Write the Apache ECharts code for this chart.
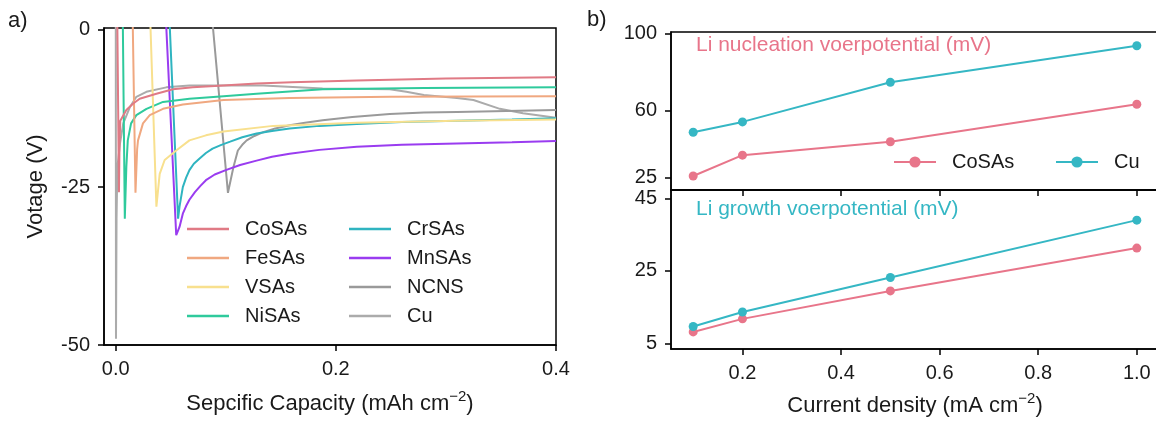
<!DOCTYPE html>
<html><head><meta charset="utf-8">
<script src="https://cdn.jsdelivr.net/npm/echarts@6/dist/echarts.min.js"></script>
<style>html,body{margin:0;padding:0;background:#fff;overflow:hidden}#c{width:1200px;height:423px}</style>
</head><body><div id="c"></div><script>
// ---------- Panel a: voltage profiles [capacity, voltage] ----------
const coSAs = [[0.0015,1],[0.0030,-25.8],[0.0035,-18],[0.0042,-14.5],[0.0097,-12.8],[0.0157,-11.8],[0.0218,-11.0],[0.037,-10.2],[0.052,-9.5],[0.07,-9.2],[0.09,-9.0],[0.128,-8.6],[0.16,-8.4],[0.219,-8.1],[0.3,-7.8],[0.4,-7.6]];
const feSAs = [[0.0155,1],[0.0180,-25.9],[0.0195,-19],[0.0203,-17.6],[0.0248,-14.9],[0.031,-13.6],[0.043,-12.6],[0.061,-11.9],[0.098,-11.2],[0.158,-10.9],[0.249,-10.7],[0.4,-10.6]];
const vSAs = [[0.0315,1],[0.0370,-28.1],[0.040,-22.9],[0.0445,-20.7],[0.055,-19.2],[0.067,-17.6],[0.082,-16.8],[0.098,-16.2],[0.143,-15.3],[0.219,-14.8],[0.31,-14.5],[0.4,-14.3]];
const niSAs = [[0.0065,1],[0.0083,-30],[0.0097,-21.8],[0.011,-17.6],[0.014,-14.9],[0.0188,-13.6],[0.028,-12.6],[0.043,-11.5],[0.067,-11.0],[0.098,-10.6],[0.128,-10.2],[0.188,-9.5],[0.28,-9.3],[0.4,-9.2]];
const crSAs = [[0.0490,1],[0.0567,-30],[0.058,-28.1],[0.061,-25],[0.064,-23.5],[0.067,-22.3],[0.071,-21.3],[0.076,-20.5],[0.082,-19.6],[0.088,-18.9],[0.096,-18.3],[0.104,-17.8],[0.115,-17.1],[0.128,-16.5],[0.142,-16.1],[0.158,-15.7],[0.185,-15.3],[0.219,-15.0],[0.26,-14.7],[0.31,-14.5],[0.36,-14.3],[0.4,-14.1]];
const mnSAs = [[0.0458,1],[0.0550,-32.6],[0.058,-31.3],[0.061,-29.2],[0.064,-28.0],[0.067,-27.0],[0.072,-25.8],[0.077,-24.8],[0.082,-23.9],[0.090,-23.0],[0.100,-22.3],[0.113,-21.5],[0.128,-20.8],[0.142,-20.2],[0.158,-19.7],[0.185,-19.1],[0.219,-18.6],[0.26,-18.3],[0.31,-18.1],[0.36,-17.9],[0.4,-17.7]];
const ncns = [[0.0880,1],[0.102,-25.9],[0.107,-21.8],[0.111,-19.2],[0.115,-18.3],[0.119,-17.6],[0.126,-16.9],[0.134,-16.3],[0.145,-15.7],[0.158,-15.2],[0.172,-14.8],[0.188,-14.4],[0.215,-13.9],[0.249,-13.4],[0.28,-13.2],[0.31,-13.1],[0.4,-12.8]];
const cuA = [[0.0001,1],[0.0003,-49],[0.0008,-30],[0.0015,-22],[0.0039,-18.1],[0.0069,-14.9],[0.0130,-12.3],[0.0188,-10.7],[0.0279,-9.9],[0.046,-9.2],[0.067,-8.9],[0.098,-8.9],[0.134,-8.9],[0.188,-9.4],[0.249,-9.5],[0.264,-9.9],[0.28,-10.4],[0.31,-10.9],[0.325,-11.2],[0.349,-12.6],[0.37,-13.3],[0.4,-14.0]];
const seriesNamesA = ['CoSAs','FeSAs','VSAs','NiSAs','CrSAs','MnSAs','NCNS','Cu'];
const seriesDataA = [coSAs, feSAs, vSAs, niSAs, crSAs, mnSAs, ncns, cuA];
const colorsA = ['#e07a85','#f0a880','#f8e08e','#2fca9c','#2fb4c0','#9a3cf0','#9a9a9a','#ababab'];
const xTicksA = [0, 0.2, 0.4];
const yTicksA = [-50, -25, 0];

// ---------- Panel b: overpotentials vs current density ----------
const currentDensity = [0.1, 0.2, 0.5, 1.0];
const nucleationCoSAs = [25.7, 36.6, 43.6, 63.2];
const nucleationCu = [48.6, 54.0, 74.7, 93.8];
const growthCoSAs = [8.2, 11.8, 19.5, 31.3];
const growthCu = [9.7, 13.7, 23.2, 39.0];
const xTicksB = [0.2, 0.4, 0.6, 0.8, 1.0];
const yTicksNuc = [25, 60, 100];
const yTicksGrowth = [5, 25, 45];
const pink = '#e8758a', teal = '#35b7c4';

const FONT = 'Liberation Sans, Arial, sans-serif';
const pair = (xs, ys) => xs.map((x, i) => [x, ys[i]]);

function axisBase(ticks, showLabel, fmt) {
  return {
    type: 'value', splitLine: {show: false},
    axisLine: {show: true, onZero: false, lineStyle: {color: '#000', width: 1.5}},
    axisTick: {show: true, inside: false, length: 6, customValues: ticks, lineStyle: {color: '#000', width: 1.5}},
    axisLabel: {show: showLabel, customValues: ticks, formatter: fmt, margin: 14, fontSize: 20, color: '#1a1a1a', fontFamily: FONT},
  };
}
const nameStyle = {fontSize: 22, color: '#1a1a1a', fontFamily: FONT,
  rich: {sup: {fontSize: 15, color: '#1a1a1a', fontFamily: FONT, padding: [0, 0, 11, 0], verticalAlign: 'bottom'},
         n: {fontSize: 22, color: '#1a1a1a', fontFamily: FONT, verticalAlign: 'bottom'}}};

const series = [];
seriesNamesA.forEach((n, i) => series.push({
  name: n, type: 'line', xAxisIndex: 0, yAxisIndex: 0, data: seriesDataA[i],
  showSymbol: false, symbol: 'none', lineStyle: {width: 2, color: colorsA[i]}, itemStyle: {color: colorsA[i]},
  z: 10 - i, animation: false, clip: true
}));
const bLine = (name, data, color, xi) => ({
  name, type: 'line', xAxisIndex: xi, yAxisIndex: xi, data, symbol: 'circle', symbolSize: 9,
  lineStyle: {width: 2, color}, itemStyle: {color}, animation: false
});
series.push(bLine('b-CoSAs', pair(currentDensity, nucleationCoSAs), pink, 1));
series.push(bLine('b-Cu', pair(currentDensity, nucleationCu), teal, 1));
series.push(bLine('g-CoSAs', pair(currentDensity, growthCoSAs), pink, 2));
series.push(bLine('g-Cu', pair(currentDensity, growthCu), teal, 2));

const legendText = {fontSize: 20, color: '#1a1a1a', fontFamily: FONT, lineHeight: 20, padding: [0, 0, 0, 11]};
// panel b axes run past the right edge of the 1156px window (right spine cut off in the original)
const bLeft = 671, bWidth = 488;
const bMin = 0.055, bMax = 1.045;
const option = {
  animation: false,
  grid: [
    {left: 104, top: 28, width: 452, height: 317, show: true, borderColor: '#000', borderWidth: 1.5},
    {left: bLeft, top: 32, width: bWidth, height: 158, show: true, borderColor: '#000', borderWidth: 1.5},
    {left: bLeft, top: 190, width: bWidth, height: 159, show: true, borderColor: '#000', borderWidth: 1.5}
  ],
  xAxis: [
    Object.assign(axisBase(xTicksA, true, v => v.toFixed(1)), {gridIndex: 0, min: -0.0106, max: 0.4,
      name: '{n|Sepcific Capacity (mAh cm}{sup|−2}{n|)}', nameLocation: 'middle', nameGap: 44, nameTextStyle: nameStyle}),
    Object.assign(axisBase(xTicksB, false, v => v.toFixed(1)), {gridIndex: 1, min: bMin, max: bMax}),
    Object.assign(axisBase(xTicksB, true, v => v.toFixed(1)), {gridIndex: 2, min: bMin, max: bMax,
      name: '{n|Current density (mA cm}{sup|−2}{n|)}', nameLocation: 'middle', nameGap: 42, nameTextStyle: nameStyle})
  ],
  yAxis: [
    Object.assign(axisBase(yTicksA, true, v => String(v)), {gridIndex: 0, min: -50, max: 0.2,
      name: 'Votage (V)', nameLocation: 'middle', nameGap: 57, nameTextStyle: {fontSize: 22, color: '#1a1a1a', fontFamily: FONT}}),
    Object.assign(axisBase(yTicksNuc, true, v => String(v)), {gridIndex: 1, min: 18.4, max: 101}),
    Object.assign(axisBase(yTicksGrowth, true, v => String(v)), {gridIndex: 2, min: 3.5, max: 47.3})
  ],
  legend: [
    {orient: 'vertical', left: 182, top: 214, itemWidth: 42, itemHeight: 2.5, icon: 'rect', itemGap: 9, data: seriesNamesA.slice(0, 4), textStyle: legendText, selectedMode: false},
    {orient: 'vertical', left: 344, top: 214, itemWidth: 42, itemHeight: 2.5, icon: 'rect', itemGap: 9, data: seriesNamesA.slice(4), textStyle: legendText, selectedMode: false},
    {orient: 'horizontal', left: 888, top: 147, itemWidth: 42, itemHeight: 14, data: ['b-CoSAs'], formatter: n => n.slice(2), textStyle: legendText, selectedMode: false},
    {orient: 'horizontal', left: 1050, top: 147, itemWidth: 42, itemHeight: 14, data: ['b-Cu'], formatter: n => n.slice(2), textStyle: legendText, selectedMode: false}
  ],
  graphic: [
    {type: 'text', left: 8, top: 10, style: {text: 'a)', fontSize: 22, fill: '#1a1a1a', fontFamily: FONT}},
    {type: 'text', left: 587, top: 9, style: {text: 'b)', fontSize: 22, fill: '#1a1a1a', fontFamily: FONT}},
    {type: 'text', left: 696, top: 35, style: {text: 'Li nucleation voerpotential (mV)', fontSize: 21, fill: pink, fontFamily: FONT}},
    {type: 'text', left: 696, top: 199, style: {text: 'Li growth voerpotential (mV)', fontSize: 21, fill: teal, fontFamily: FONT}}
  ],
  series
};
echarts.init(document.getElementById('c'), null, {renderer: 'canvas'}).setOption(option);
</script></body></html>
